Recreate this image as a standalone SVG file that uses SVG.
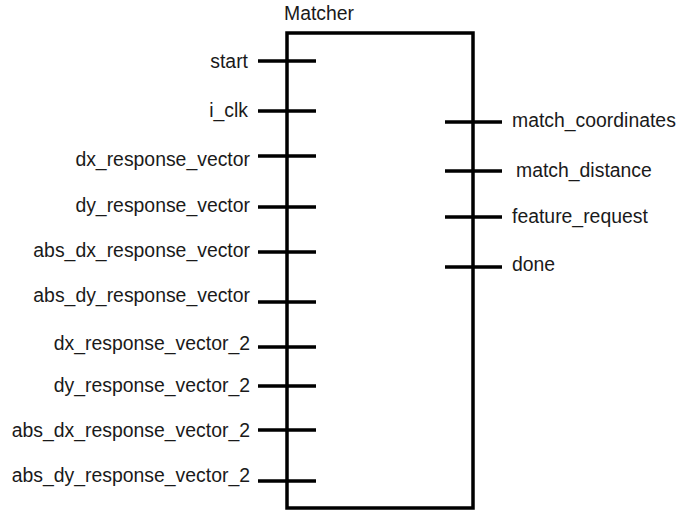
<svg xmlns="http://www.w3.org/2000/svg" width="680" height="510" viewBox="0 0 680 510">
<style>
text{font-family:"Liberation Sans",Arial,sans-serif;font-size:19.4px;fill:#1a1a1a}
.l{text-anchor:end}
.pin{stroke:#000;stroke-width:3.5;fill:none}
.box{stroke:#000;stroke-width:3.5;fill:#fff}
</style>
<rect width="680" height="510" fill="#fff"/>
<g id="matcher">
<rect class="box" x="287" y="33" width="186" height="475"/>
<text x="284" y="20">Matcher</text>
</g>
<g id="connectors">
<path class="pin" d="M258 61H316M258 111H316M258 156H316M258 207H316M258 252H316M258 302H316M258 347H316M258 386H316M258 430H316M258 481H316"/>
<path class="pin" d="M445 122H502M445 171H502M445 217H502M445 267H502"/>
</g>
<g id="in_ports">
<text class="l" x="248" y="68">start</text>
<text class="l" x="248" y="117">i_clk</text>
<text class="l" x="250" y="166">dx_response_vector</text>
<text class="l" x="250" y="212">dy_response_vector</text>
<text class="l" x="250" y="257">abs_dx_response_vector</text>
<text class="l" x="250" y="302">abs_dy_response_vector</text>
<text class="l" x="250" y="350">dx_response_vector_2</text>
<text class="l" x="250" y="392">dy_response_vector_2</text>
<text class="l" x="250" y="437">abs_dx_response_vector_2</text>
<text class="l" x="250" y="482">abs_dy_response_vector_2</text>
</g>
<g id="out_ports">
<text x="512" y="127">match_coordinates</text>
<text x="516" y="177">match_distance</text>
<text x="512" y="223">feature_request</text>
<text x="512" y="271">done</text>
</g>
</svg>
